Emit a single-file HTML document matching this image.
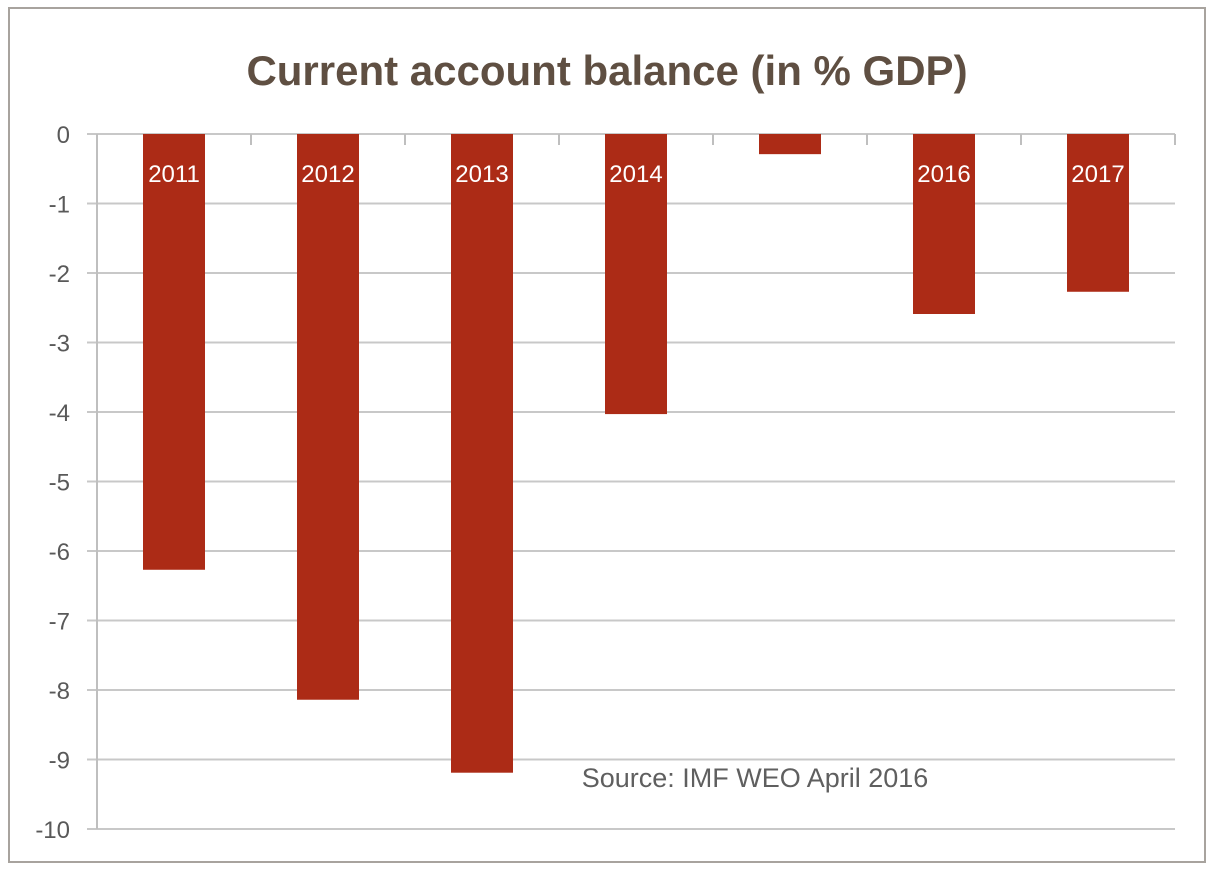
<!DOCTYPE html>
<html><head><meta charset="utf-8"><style>
body{margin:0;background:#fff;}
svg text{font-family:"Liberation Sans",sans-serif;}
</style></head><body>
<svg width="1215" height="871">
<rect x="9" y="8" width="1196" height="854" fill="#fff" stroke="#a8a39e" stroke-width="2"/>
<text x="607" y="85" text-anchor="middle" font-size="42" font-weight="bold" fill="#5f4f42">Current account balance (in % GDP)</text>
<g id="grid"></g><g id="bars"></g><g id="labels"></g>
<text x="755" y="787" text-anchor="middle" font-size="27" fill="#5f5f5f">Source: IMF WEO April 2016</text>
</svg>
<script>
const categories=["2011","2012","2013","2014","2015","2016","2017"];
const values=[-6.27,-8.14,-9.19,-4.03,-0.29,-2.59,-2.27];
const yTicks=[0,-1,-2,-3,-4,-5,-6,-7,-8,-9,-10];
const NS="http://www.w3.org/2000/svg";
const x0=97,x1=1175,y0=134,y1=829;
const yScale=v=>y0+(0-v)/10*(y1-y0);
const band=(x1-x0)/categories.length;
const xCenter=i=>x0+band*(i+0.5);
function mk(t,a,p){const e=document.createElementNS(NS,t);for(const k in a)e.setAttribute(k,a[k]);p.appendChild(e);return e;}
const g=document.getElementById('grid'),b=document.getElementById('bars'),l=document.getElementById('labels');
yTicks.forEach(v=>{const y=yScale(v);
const ln=mk('line',{x1:87,x2:x1,y1:y,y2:y,stroke:'#c8c8c8','stroke-width':2},g);


const t=mk('text',{x:70,y:y+9,'text-anchor':'end','font-size':24,fill:'#595959'},g);t.textContent=v;


});
const ax=mk('line',{x1:x0,x2:x0,y1:y0,y2:y1,stroke:'#bfbfbf','stroke-width':2},g);


for(let i=0;i<=categories.length;i++){const x=x0+band*i;
const tk=mk('line',{x1:x,x2:x,y1:y0,y2:y0+11,stroke:'#bfbfbf','stroke-width':2},g);

}
categories.forEach((c,i)=>{const w=62,cx=xCenter(i),yv=yScale(values[i]);
const r=mk('rect',{x:cx-w/2,y:Math.min(y0,yv),width:w,height:Math.abs(yv-y0),fill:'#ac2b16'},b);


const t=mk('text',{x:cx,y:182,'text-anchor':'middle','font-size':24,fill:'#fff','font-family':'Liberation Serif, serif'},l);t.textContent=c;


});
</script>
</body></html>
